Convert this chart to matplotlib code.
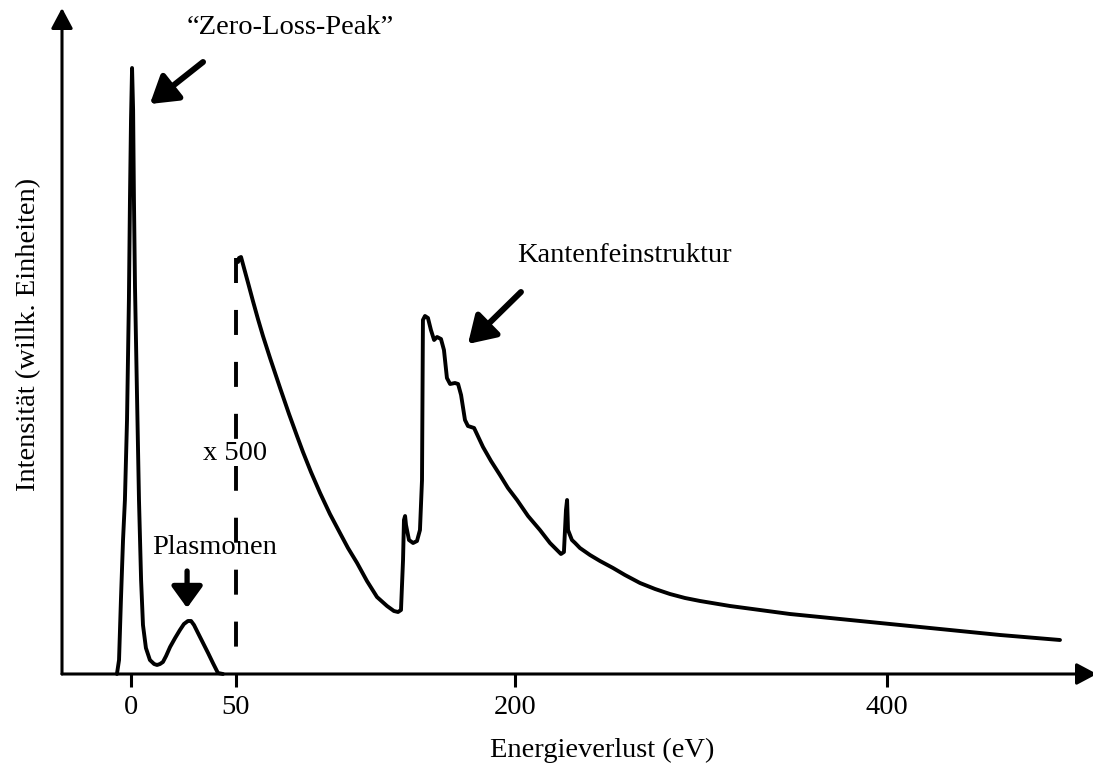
import numpy as np
import matplotlib
matplotlib.use("Agg")
import matplotlib.pyplot as plt

plt.rcParams['font.family'] = ['Liberation Serif', 'DejaVu Serif']
plt.rcParams['lines.scale_dashes'] = False

# ---------------- spectrum data (eV, arbitrary intensity) ----------------
# zero-loss peak + plasmon (unscaled part)
e_low = [-6.7, -5.7, -4.8, -3.8, -2.9, -1.9, -1.0, -0.5, 0.0, 0.5, 1.0, 1.4,
         1.9, 2.9, 3.8, 4.8, 5.7, 7.1, 9.0, 11.0, 12.4, 13.8, 15.2, 16.7,
         18.6, 21.0, 23.3, 25.2, 27.1, 28.6, 30.0, 31.9, 34.3, 36.7, 39.0,
         41.4, 43.8]
i_low = [0, 14, 74, 134, 174, 254, 374, 474, 554, 606, 564, 474,
         387, 274, 174, 94, 49, 26, 14, 10, 9, 10, 12, 18,
         27, 36, 44, 50, 53, 53, 49, 41, 31, 21, 11,
         1, 0]

# core-loss part, scaled x 500
e_high = [51.1, 51.6, 52.7, 54.3, 56.5, 59.1, 61.8, 64.5, 68.3, 73.7, 78.5,
          82.8, 86.0, 90.3, 95.2, 100.5, 105.9, 110.2, 115.1, 120.4, 125.8,
          131.2, 134.9, 137.1, 138.7, 139.8, 140.3, 140.9, 141.4, 143.0, 145.2,
          147.3, 148.9, 150.0, 150.5, 151.6, 153.2, 154.8, 156.5, 158.1, 160.2,
          161.8, 163.4, 165.1, 167.7, 169.4, 171.0, 173.1, 174.7, 178.0, 182.8,
          187.1, 191.9, 196.2, 201.1, 207.0, 213.4, 218.8, 224.7, 226.3, 227.4,
          228.0, 228.5, 230.6, 232.3, 234.9, 240.3, 245.7, 252.7, 259.1, 267.2,
          275.3, 283.3, 291.4, 299.5, 315.6, 331.7, 347.8, 369.4, 385.5, 407.0,
          433.9, 460.8, 493.0]
i_high = [412, 416, 417, 406, 391, 373, 355, 338, 316, 286, 260,
          238, 222, 202, 181, 160, 141, 126, 111, 93, 77,
          68, 63, 62, 64, 114, 154, 158, 149, 134, 131,
          133, 144, 194, 354, 358, 356, 344, 334, 337, 335,
          324, 296, 290, 291, 290, 279, 254, 248, 246, 227,
          213, 199, 186, 174, 158, 144, 131, 120, 122, 164,
          174, 144, 134, 131, 126, 119, 113, 106, 99, 91,
          85, 80, 76, 73, 68, 64, 60, 56, 53, 49,
          44, 39, 34]

SCALE_EV = 50          # where the x 500 scaling starts
SCALE_TOP = 416        # top of the dashed marker
xticks = [0, 50, 200, 400]


# axis is stretched a bit more below 50 eV
def fwd(e):
    e = np.asarray(e, dtype=float)
    return np.where(e < 50, 2.1 * e, 105 + 1.86 * (e - 50))


def inv(p):
    p = np.asarray(p, dtype=float)
    return np.where(p < 105, p / 2.1, 50 + (p - 105) / 1.86)


W, H = 1093, 765
fig = plt.figure(figsize=(W / 100, H / 100), dpi=100)
ax = fig.add_axes([62 / W, (H - 674) / H, (1097 - 62) / W, 666 / H])
ax.patch.set_visible(False)
ax.set_xscale('function', functions=(fwd, inv))
ax.set_xlim(-32.86, 512.9)
ax.set_ylim(0, 666)
for s in ax.spines.values():
    s.set_visible(False)

ax.plot(e_low, i_low, color='black', lw=2.8, solid_joinstyle='round',
        solid_capstyle='round', clip_on=False)
ax.plot(e_high, i_high, color='black', lw=2.8, solid_joinstyle='round',
        solid_capstyle='round', clip_on=False)
ax.plot([SCALE_EV, SCALE_EV], [SCALE_TOP, 0], color='black', lw=2.8,
        dashes=(18, 19.4))

# axes with arrow heads
axis_arrow = dict(arrowstyle='-|>,head_length=0.62,head_width=0.33', lw=2.2,
                  color='black', shrinkA=0, shrinkB=0, mutation_scale=20)
ax.annotate('', xy=(0, 1), xytext=(0, 0), xycoords='axes fraction',
            arrowprops=axis_arrow, annotation_clip=False)
ax.annotate('', xy=(1, 0), xytext=(0, 0), xycoords='axes fraction',
            arrowprops=axis_arrow, annotation_clip=False)

ax.set_xticks(xticks)
ax.set_xticklabels([str(t) for t in xticks])
ax.set_yticks([])
ax.tick_params(axis='x', length=9, width=2.2, direction='out', pad=6,
               labelsize=20.5)
ax.minorticks_off()

ax.set_xlabel('Energieverlust (eV)', fontsize=20.5)
ax.xaxis.set_label_coords((602 - 62) / 1035, (674 - 738) / 666)
ax.set_ylabel('Intensität (willk. Einheiten)', fontsize=20.5)
ax.yaxis.set_label_coords((29 - 62) / 1035, 0.51)
ax.yaxis.label.set_va('center')

fs = 20.5
big_arrow = dict(arrowstyle='-|>,head_length=0.8,head_width=0.5', lw=4.3,
                 color='black', shrinkA=0, shrinkB=0, mutation_scale=20)
ax.text(79, 646, '\u201cZero-Loss-Peak\u201d', fontsize=fs, ha='center', va='center')
ax.annotate('', xy=(9.0, 570), xytext=(34.3, 612), arrowprops=big_arrow)

ax.text(258.6, 419, 'Kantenfeinstruktur', fontsize=fs, ha='center', va='center')
ax.annotate('', xy=(174.7, 330), xytext=(203.2, 382), arrowprops=big_arrow)

ax.text(49.5, 221, 'x 500', fontsize=fs, ha='center', va='center',
        bbox=dict(facecolor='white', edgecolor='none', pad=0))

ax.text(40, 127, 'Plasmonen', fontsize=fs, ha='center', va='center')
ax.annotate('', xy=(26.7, 66), xytext=(26.7, 103),
            arrowprops=dict(arrowstyle='-|>,head_length=0.65,head_width=0.47',
                            lw=3.8, color='black', shrinkA=0, shrinkB=0,
                            mutation_scale=20))

fig.savefig('out.png', dpi=100)
